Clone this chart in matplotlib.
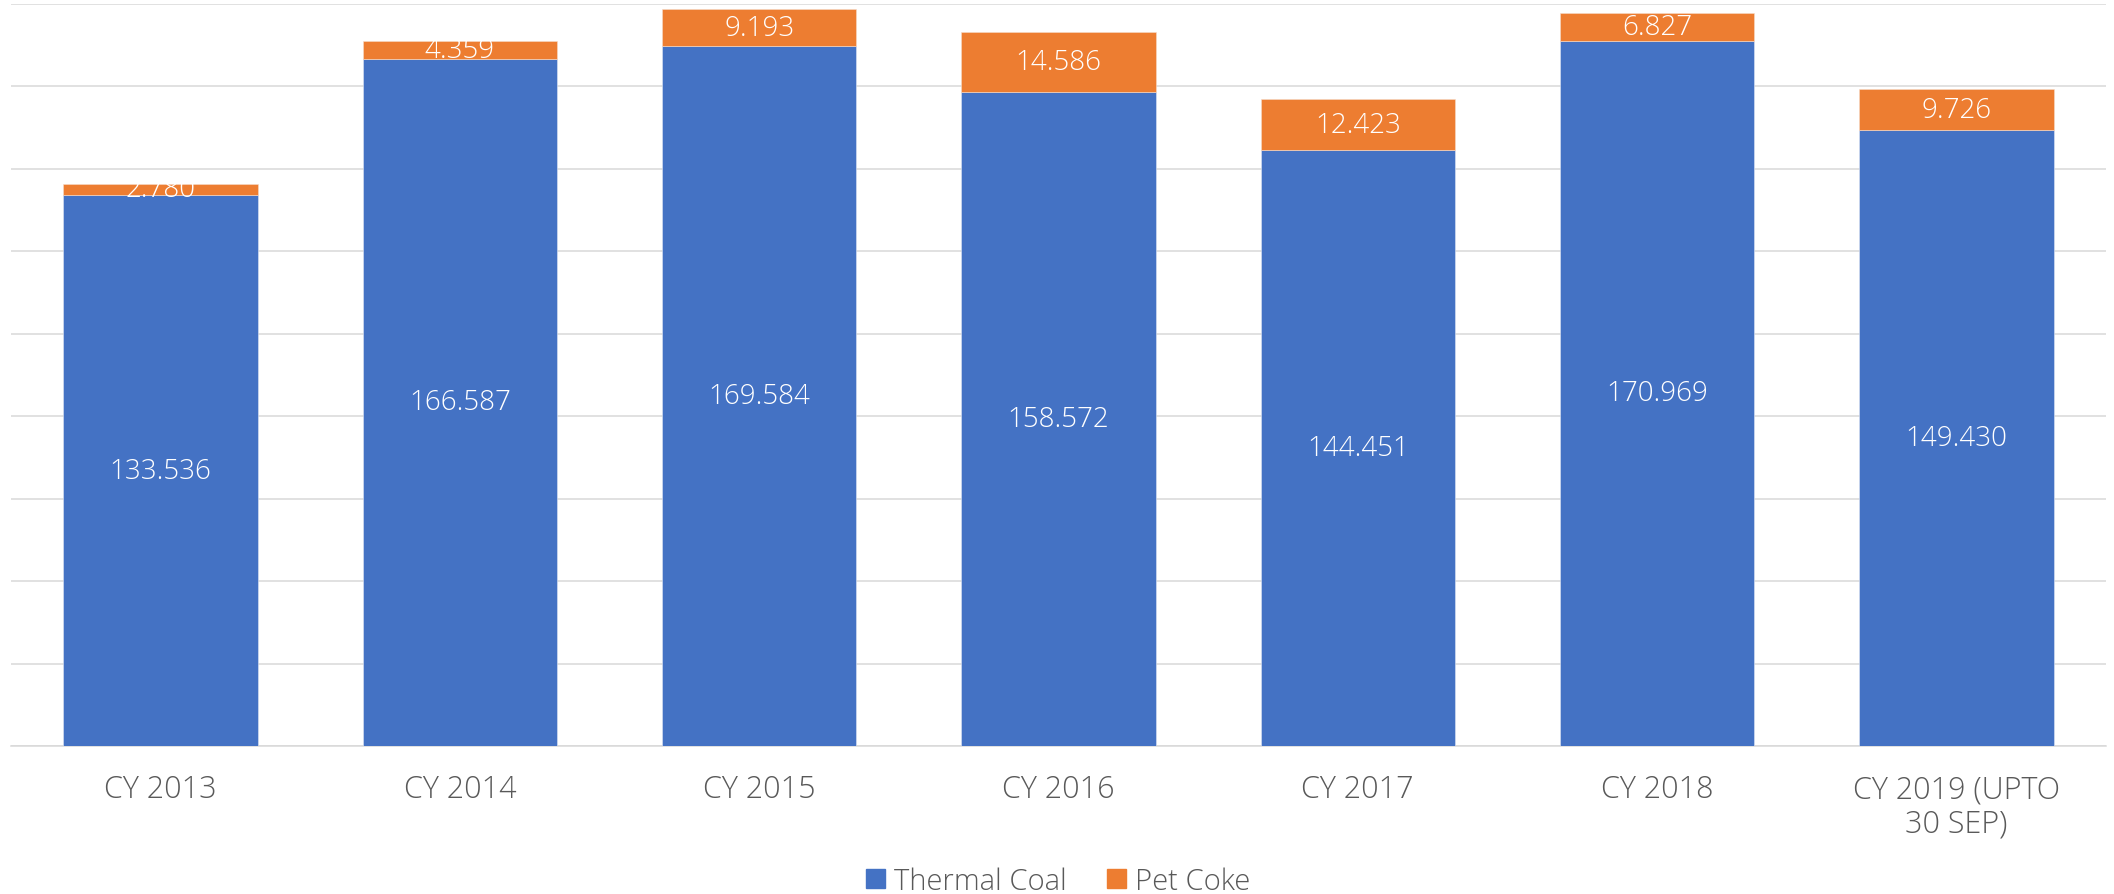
import numpy as np
import matplotlib
matplotlib.use('Agg')
import matplotlib.pyplot as plt
from matplotlib.patches import Patch

# data
categories = ['CY 2013', 'CY 2014', 'CY 2015', 'CY 2016', 'CY 2017', 'CY 2018',
              'CY 2019 (UPTO\n30 SEP)']
thermal_coal = [133.536, 166.587, 169.584, 158.572, 144.451, 170.969, 149.430]
pet_coke = [2.780, 4.359, 9.193, 14.586, 12.423, 6.827, 9.726]
grid_ticks = list(range(0, 181, 20))

BLUE = '#4472C4'
ORANGE = '#ED7D31'
GRID = '#D9D9D9'
TEXT = '#595959'

plt.rcParams['font.family'] = ['Open Sans', 'DejaVu Sans']

fig = plt.figure(figsize=(21.14, 8.95), dpi=100)
ax = fig.add_axes([11 / 2114, 1 - 747 / 895, 2095 / 2114, (747 - 4.5) / 895])

x = np.arange(len(categories))
width = 0.65
ax.bar(x, thermal_coal, width, color=BLUE, edgecolor='#dfe6f3', linewidth=0.4,
       zorder=3, label='Thermal Coal')
ax.bar(x, pet_coke, width, bottom=thermal_coal, color=ORANGE, edgecolor='#f6dccb',
       linewidth=0.4, zorder=3, label='Pet Coke')

# value labels in the middle of each segment
for xi, tc, pc in zip(x, thermal_coal, pet_coke):
    ax.text(xi, tc / 2, f'{tc:.3f}', ha='center', va='center', color='white',
            fontsize=20, fontweight='light', zorder=4)
    ax.text(xi, tc + pc / 2, f'{pc:.3f}', ha='center', va='center', color='white',
            fontsize=20, fontweight='light', zorder=4)

ax.set_xlim(-0.5, len(categories) - 0.5)
ax.set_ylim(0, 180)
ax.set_yticks(grid_ticks)
ax.yaxis.grid(True, color=GRID, linewidth=1.1, zorder=0)
ax.tick_params(axis='y', left=False, labelleft=False)
ax.set_xticks(x)
ax.set_xticklabels(categories, fontsize=22, color=TEXT, fontweight='light',
                   linespacing=1.1)
ax.tick_params(axis='x', bottom=False, pad=16)
for s in ['top', 'left', 'right']:
    ax.spines[s].set_visible(False)
ax.spines['bottom'].set_color(GRID)
ax.spines['bottom'].set_linewidth(1.1)

handles = [Patch(color=BLUE, label='Thermal Coal'), Patch(color=ORANGE, label='Pet Coke')]
fig.legend(handles=handles, loc='center', bbox_to_anchor=(1058 / 2114, 1 - 882 / 895),
           ncol=2, frameon=False, handlelength=0.65, handleheight=0.65,
           handletextpad=0.3, columnspacing=1.4, labelcolor=TEXT,
           prop={'size': 21, 'weight': 'light'})

fig.savefig('out.png', dpi=100)
